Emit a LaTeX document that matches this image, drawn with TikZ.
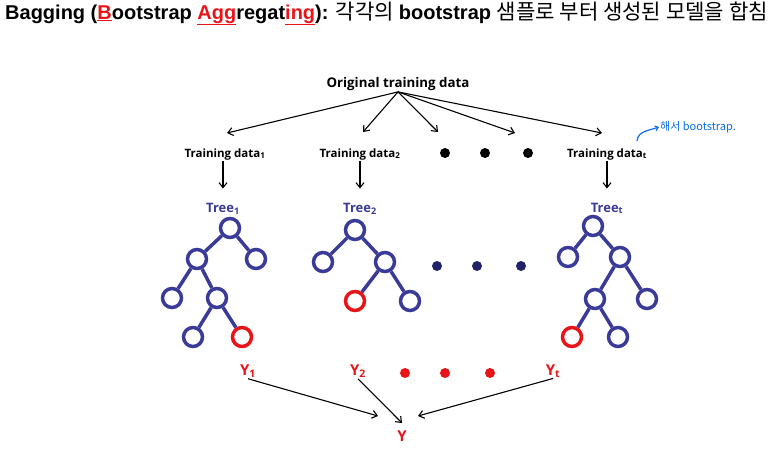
\documentclass[tikz,border=0pt]{standalone}
\usepackage{fontspec}
\setmainfont{Liberation Sans}
\newfontfamily\krfont{Noto Sans CJK KR}
\newfontfamily\lblfont{Open Sans}
\usetikzlibrary{arrows.meta}

\definecolor{treeblue}{RGB}{58,58,152}
\definecolor{dotnavy}{RGB}{35,35,105}
\definecolor{bagred}{RGB}{232,20,24}
\definecolor{penblue}{RGB}{10,110,235}
\newcommand{\redul}[1]{\textcolor{bagred}{\underline{#1}}}

\begin{document}
\begin{tikzpicture}[x=1pt, y=-1pt,
        title/.style={anchor=base west, inner sep=0pt, font=\fontsize{20}{22}\selectfont},
        origlbl/.style={font=\lblfont\bfseries\fontsize{13.3}{15}\selectfont, inner sep=1.5pt},
        datalbl/.style={font=\lblfont\bfseries\fontsize{11.5}{13}\selectfont, inner sep=1pt},
        treelbl/.style={font=\lblfont\bfseries\fontsize{13}{15}\selectfont, text=treeblue, inner sep=1pt},
        outlbl/.style={font=\lblfont\bfseries\fontsize{15}{17}\selectfont, text=bagred, inner sep=1pt},
        tnode/.style={circle, draw=treeblue, line width=3.5pt, minimum size=19pt, inner sep=0pt, fill=white},
        rnode/.style={tnode, draw=bagred},
        tedge/.style={draw=treeblue, line width=3.5pt},
        arrow/.style={-{Straight Barb[length=5pt,width=8pt]}, line width=1.1pt},
        dot/.style={circle, minimum size=10pt, inner sep=0pt}
    ]
    \useasboundingbox (0,0) rectangle (773,461);

    % ================= Title =================
    \node[title] (ttl) at (5,19) {\bfseries Bagging (\redul{B}ootstrap \redul{Agg}regat\redul{ing}): \mdseries\krfont\fontsize{21.1}{22}\selectfont 각각의 \normalfont\bfseries\fontsize{20}{22}\selectfont bootstrap \mdseries\krfont\fontsize{21.1}{22}\selectfont 샘플로 부터 생성된 모델을 합침};

    % ================= Bootstrap samples =================
    \node[origlbl, anchor=base] (orig) at (398,87) {Original training data};

    \node[datalbl, anchor=base] (td1) at (225,157) {Training data\textsubscript{1}};
    \node[datalbl, anchor=base] (td2) at (360,157) {Training data\textsubscript{2}};
    \node[datalbl, anchor=base] (tdt) at (607,157) {Training data\textsubscript{t}};

    \node[dot, fill=black] (bd1) at (445,153) {};
    \node[dot, fill=black] (bd2) at (485,153) {};
    \node[dot, fill=black] (bd3) at (528,153) {};

    % arrow ends above the samples
    \coordinate (in1) at (227,133);
    \coordinate (in2) at (363,132);
    \coordinate (in3) at (438,132);
    \coordinate (in4) at (515,133);
    \coordinate (int) at (602,133);
    \foreach \e in {in1,in2,in3,in4,int}
        \draw[arrow] (orig.south) -- (\e);

    % handwritten note
    \node[font=\krfont\fontsize{11}{12}\selectfont, text=penblue, anchor=west, inner sep=1pt] (note) at (659,127) {해서 bootstrap.};
    \coordinate (pen) at (637,141);
    \draw[penblue, line width=1.2pt, -{Straight Barb[length=3pt,width=5pt]}] (pen) to[out=85, in=200] (note.west);

    % ================= Trees =================
    \node[treelbl, anchor=base] (tl1) at (223,212) {Tree\textsubscript{1}};
    \node[treelbl, anchor=base] (tl2) at (360,212) {Tree\textsubscript{2}};
    \node[treelbl, anchor=base] (tlt) at (607,212) {Tree\textsubscript{t}};

    \draw[arrow, shorten >=13pt] (td1.south -| tl1) -- (tl1.north);
    \draw[arrow, shorten >=13pt] (td2.south -| tl2) -- (tl2.north);
    \draw[arrow, shorten >=13pt] (tdt.south -| tlt) -- (tlt.north);

    % Tree 1
    \node[tnode] (a0) at (230,228) {};
    \node[tnode] (a1) at (197,259) {};
    \node[tnode] (a2) at (256,259) {};
    \node[tnode] (a3) at (172,298) {};
    \node[tnode] (a4) at (217,298) {};
    \node[tnode] (a5) at (193,337) {};
    \node[rnode] (a6) at (242,337) {};
    \foreach \p/\c in {a0/a1,a0/a2,a1/a3,a1/a4,a4/a5,a4/a6}
        \draw[tedge] (\p) -- (\c);

    % Tree 2
    \node[tnode] (b0) at (355,230) {};
    \node[tnode] (b1) at (323,262) {};
    \node[tnode] (b2) at (385,262) {};
    \node[rnode] (b3) at (355,301) {};
    \node[tnode] (b4) at (410,301) {};
    \foreach \p/\c in {b0/b1,b0/b2,b2/b3,b2/b4}
        \draw[tedge] (\p) -- (\c);

    \node[dot, fill=dotnavy] (nd1) at (437,266) {};
    \node[dot, fill=dotnavy] (nd2) at (477,266) {};
    \node[dot, fill=dotnavy] (nd3) at (521,266) {};

    % Tree t
    \node[tnode] (c0) at (593,226) {};
    \node[tnode] (c1) at (568,257) {};
    \node[tnode] (c2) at (620,257) {};
    \node[tnode] (c3) at (595,299) {};
    \node[tnode] (c4) at (647,299) {};
    \node[rnode] (c5) at (572,337) {};
    \node[tnode] (c6) at (618,337) {};
    \foreach \p/\c in {c0/c1,c0/c2,c2/c3,c2/c4,c3/c5,c3/c6}
        \draw[tedge] (\p) -- (\c);

    % ================= Outputs =================
    \node[outlbl, anchor=base] (y1) at (248,375) {Y\textsubscript{1}};
    \node[outlbl, anchor=base] (y2) at (358,375) {Y\textsubscript{2}};
    \node[outlbl, anchor=base] (yt) at (553,375) {Y\textsubscript{t}};
    \node[outlbl, anchor=base] (yall) at (402,441) {Y};

    \node[dot, fill=bagred] (rd1) at (405,373) {};
    \node[dot, fill=bagred] (rd2) at (445,373) {};
    \node[dot, fill=bagred] (rd3) at (490,373) {};

    \coordinate (yin1) at (378,416);
    \coordinate (yin2) at (402,423);
    \coordinate (yint) at (418,416);
    \draw[arrow] (y1.south) -- (yin1);
    \draw[arrow] (y2.south) -- (yin2);
    \draw[arrow] (yt.south) -- (yint);

\end{tikzpicture}
\end{document}
